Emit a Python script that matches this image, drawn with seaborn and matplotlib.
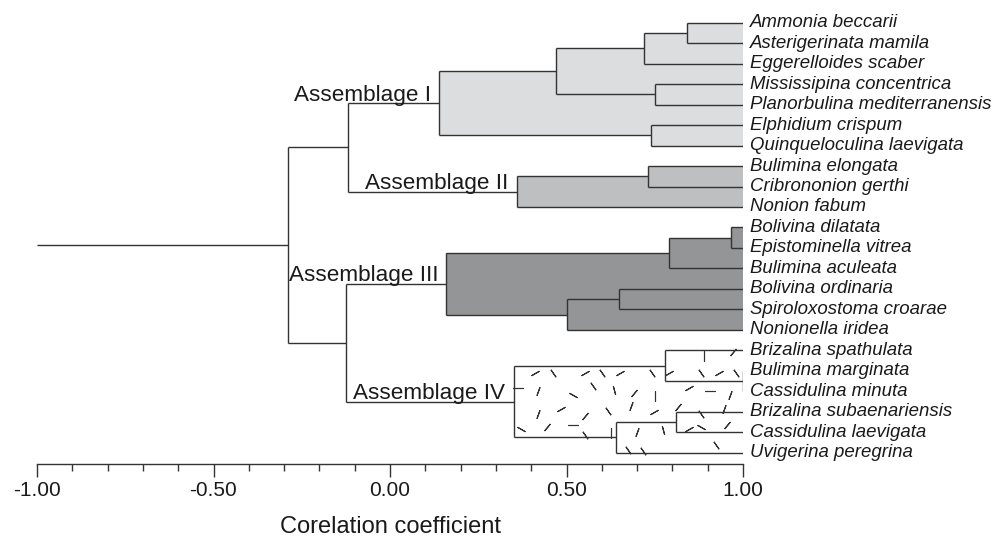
import matplotlib
matplotlib.use("Agg")
import matplotlib.pyplot as plt
from matplotlib.path import Path
import numpy as np
import seaborn as sns

# leaves, top to bottom
species = ["Ammonia beccarii", "Asterigerinata mamila", "Eggerelloides scaber",
           "Mississipina concentrica", "Planorbulina mediterranensis", "Elphidium crispum",
           "Quinqueloculina laevigata", "Bulimina elongata", "Cribrononion gerthi",
           "Nonion fabum", "Bolivina dilatata", "Epistominella vitrea", "Bulimina aculeata",
           "Bolivina ordinaria", "Spiroloxostoma croarae", "Nonionella iridea",
           "Brizalina spathulata", "Bulimina marginata", "Cassidulina minuta",
           "Brizalina subaenariensis", "Cassidulina laevigata", "Uvigerina peregrina"]

# linkage: new cluster ids start at len(species)
merge_left = [0, 22, 3, 23, 5, 25, 7, 28, 27, 10, 31, 13, 33, 32, 17, 16, 19, 38, 37, 35, 30]
merge_right = [1, 2, 4, 24, 6, 26, 8, 9, 29, 11, 12, 14, 15, 34, 18, 36, 20, 21, 39, 40, 41]
merge_corr = [0.84, 0.72, 0.75, 0.47, 0.74, 0.14, 0.73, 0.36, -0.12, 0.965, 0.79, 0.65,
              0.50, 0.16, 1.0, 0.78, 0.81, 0.64, 0.35, -0.125, -0.29]

assemblages = ["Assemblage I", "Assemblage II", "Assemblage III", "Assemblage IV"]
assemblage_nodes = [27, 29, 35, 40]
assemblage_fills = ["#dcdddf", "#bebfc1", "#949597", "white"]

xticks_major = [-1.0, -0.5, 0.0, 0.5, 1.0]

n = len(species)
children = {n + i: (a, b) for i, (a, b) in enumerate(zip(merge_left, merge_right))}
height = {n + i: h for i, h in enumerate(merge_corr)}
root = n + len(merge_corr) - 1


def ny(k):
    if k < n:
        return float(k)
    a, b = children[k]
    return (ny(a) + ny(b)) / 2


def nx(k):
    return 1.0 if k < n else height[k]


def side_path(k, xp, side):
    if k < n:
        return [(xp, ny(k)), (1.0, ny(k))]
    return [(xp, ny(k)), (height[k], ny(k))] + side_path(children[k][side], height[k], side)


def outline(k):
    a, b = children[k]
    h = height[k]
    pts = [(h, ny(k))] + side_path(a, h, 0) + side_path(b, h, 1)[::-1]
    return np.array(pts)


sns.set_theme(style="white")
plt.rcParams["font.family"] = ["Liberation Sans", "DejaVu Sans"]

fig = plt.figure(figsize=(9.94, 5.40), dpi=100)
ax = fig.add_axes([37 / 994, 76 / 540, 706 / 994, 454 / 540])

line_kw = dict(color="#333333", lw=1.0, solid_capstyle="butt", zorder=3)

# filled assemblage shapes
for node, fc in zip(assemblage_nodes, assemblage_fills):
    poly = outline(node)
    ax.fill(poly[:, 0], poly[:, 1], color=fc, lw=0, zorder=1)

# scattered dash texture inside Assemblage IV
poly4 = Path(outline(assemblage_nodes[3]))
angles = [0, 35, 90, 140, 60, 120, 15, 160]
pts = {a: [] for a in angles}
for j, yy in enumerate(np.arange(16.1, 21.6, 0.95)):
    for i, xx in enumerate(np.arange(0.37, 1.0, 0.066)):
        px = xx + (j % 2) * 0.033 + ((i * 7 + j * 3 + i * j) % 5 - 2) * 0.008
        py = yy + ((i * 5 + j * 11 + 2 * i * j) % 7 - 3) * 0.08
        if poly4.contains_point((px, py)) and px < 0.995:
            pts[angles[(i * 3 + j * 5 + i * j) % len(angles)]].append((px, py))
for a, p in pts.items():
    if p:
        p = np.array(p)
        ax.plot(p[:, 0], p[:, 1], ls="none", marker=(2, 2, a), ms=6.5,
                mew=0.8, mec="#333333", zorder=2)

# dendrogram lines
for k, (a, b) in children.items():
    h = height[k]
    ax.plot([h, h], [ny(a), ny(b)], **line_kw)
    for c in (a, b):
        ax.plot([h, nx(c)], [ny(c), ny(c)], **line_kw)
ax.plot([-1.0, height[root]], [ny(root), ny(root)], **line_kw)

# labels
for i, name in enumerate(species):
    ax.annotate(name, (1.0, i), xytext=(5, 0), textcoords="offset points",
                ha="left", va="center", fontsize=13.4, style="italic",
                color="#1a1a1a", annotation_clip=False)
for label, node in zip(assemblages, assemblage_nodes):
    ax.annotate(label, (height[node], ny(node)), xytext=(-6, 2), textcoords="offset points",
                ha="right", va="baseline", fontsize=16.2, color="#1a1a1a")

ax.set_xlim(-1.0, 1.0)
ax.set_ylim(21.55, -0.62)
ax.set_yticks([])
ax.set_xticks(xticks_major)
ax.set_xticklabels([f"{t:.2f}" for t in xticks_major], fontsize=15, color="#1a1a1a")
ax.set_xticks(np.round(np.arange(-1.0, 1.01, 0.1), 2), minor=True)
ax.tick_params(axis="x", which="major", direction="out", length=9.5, width=1,
               color="#333333", pad=3, bottom=True)
ax.tick_params(axis="x", which="minor", direction="out", length=5, width=1,
               color="#333333", bottom=True)
ax.set_xlabel("Corelation coefficient", fontsize=17, color="#1a1a1a", labelpad=11)
sns.despine(ax=ax, left=True, top=True, right=True)
ax.spines["bottom"].set_color("#333333")
ax.spines["bottom"].set_linewidth(1.0)

fig.savefig("out.png", dpi=100)
